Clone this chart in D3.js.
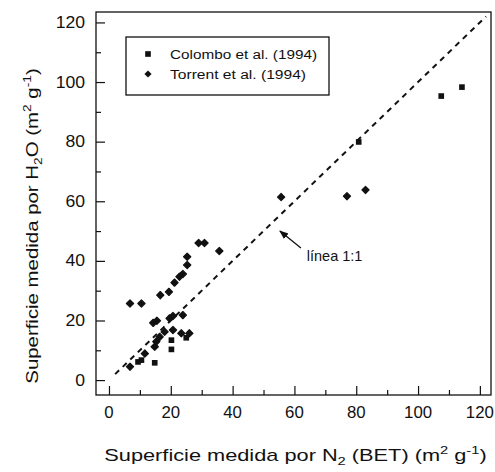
<!DOCTYPE html>
<html>
<head>
<meta charset="utf-8">
<script src="https://cdn.jsdelivr.net/npm/d3@7"></script>
<style>
  body { margin: 0; background: #fff; }
  svg { display: block; font-family: "Liberation Sans", Arial, sans-serif; }
</style>
</head>
<body>
<div id="chart"></div>
<script>
// Colombo et al. (1994) — squares
const colomboX = [114.2, 107.5, 80.8, 14.8, 20.2, 20.2, 10.5, 25.0, 9.4];
const colomboY = [98.3, 95.3, 79.9, 5.8, 10.3, 13.4, 6.7, 14.2, 6.1];

// Torrent et al. (1994) — diamonds
const torrentX = [55.7, 77.0, 83.0, 35.7, 29.0, 30.9, 25.3, 25.3, 23.9, 22.8, 21.2, 19.4, 16.6, 10.5, 6.8,
  14.3, 15.5, 19.6, 20.7, 23.9, 18.0, 20.7, 23.4, 26.0, 16.4, 15.3, 14.8, 11.6, 6.8];
const torrentY = [61.4, 61.7, 63.8, 43.3, 46.0, 46.0, 41.4, 38.6, 35.6, 34.7, 32.7, 29.6, 28.5, 25.7, 25.7,
  19.2, 19.9, 20.7, 21.5, 21.8, 16.2, 16.8, 15.7, 15.7, 14.5, 12.9, 11.2, 8.9, 4.5];

const tickValues = [0, 20, 40, 60, 80, 100, 120];
const minorTicks = [10, 30, 50, 70, 90, 110];
const lineEnds = [2, 122];

const W = 495, H = 472;
const box = { left: 96, right: 491, top: 12, bottom: 395 };

const x = d3.scaleLinear().domain([-4.2, 123.6]).range([box.left, box.right]);
const y = d3.scaleLinear().domain([-5, 123.5]).range([box.bottom, box.top]);

const svg = d3.select('#chart').append('svg').attr('width', W).attr('height', H);
const ink = '#111';

svg.append('defs').append('clipPath').attr('id', 'clip')
  .append('rect')
  .attr('x', box.left).attr('y', box.top)
  .attr('width', box.right - box.left).attr('height', box.bottom - box.top);

// frame
svg.append('rect')
  .attr('x', box.left).attr('y', box.top)
  .attr('width', box.right - box.left).attr('height', box.bottom - box.top)
  .attr('fill', 'none').attr('stroke', ink).attr('stroke-width', 1.3);

// inward ticks
const xAxis = svg.append('g').attr('transform', `translate(0,${box.bottom})`);
xAxis.call(d3.axisTop(x).tickValues(tickValues).tickSize(9).tickFormat(''));
xAxis.append('g').call(d3.axisTop(x).tickValues(minorTicks).tickSize(5).tickFormat(''));
xAxis.selectAll('.domain').remove();

const yAxis = svg.append('g').attr('transform', `translate(${box.left},0)`);
yAxis.call(d3.axisRight(y).tickValues(tickValues).tickSize(9).tickFormat(''));
yAxis.append('g').call(d3.axisRight(y).tickValues(minorTicks).tickSize(5).tickFormat(''));
yAxis.selectAll('.domain').remove();
svg.selectAll('.tick line').attr('stroke', ink).attr('stroke-width', 1.2);

// tick labels
svg.append('g').selectAll('text').data(tickValues).join('text')
  .attr('transform', d => `translate(${x(d)},${box.bottom + 23}) scale(1.05,1)`)
  .attr('text-anchor', 'middle').attr('font-size', 16).attr('fill', ink)
  .text(d => d);
svg.append('g').selectAll('text').data(tickValues).join('text')
  .attr('transform', d => `translate(${box.left - 11},${y(d) + 5.5}) scale(1.1,1)`)
  .attr('text-anchor', 'end').attr('font-size', 16).attr('fill', ink)
  .text(d => d);

// 1:1 line
const plot = svg.append('g').attr('clip-path', 'url(#clip)');
plot.append('line')
  .attr('x1', x(lineEnds[0])).attr('y1', y(lineEnds[0]))
  .attr('x2', x(lineEnds[1])).attr('y2', y(lineEnds[1]))
  .attr('stroke', ink).attr('stroke-width', 2).attr('stroke-dasharray', '5.5 5');

// points
const colombo = colomboX.map((v, i) => [v, colomboY[i]]);
const torrent = torrentX.map((v, i) => [v, torrentY[i]]);
const sq = d3.symbol().type(d3.symbolSquare).size(32);
const dia = d3.symbol().type(d3.symbolSquare).size(26);

plot.selectAll('.colombo').data(colombo).join('path')
  .attr('class', 'colombo')
  .attr('transform', d => `translate(${x(d[0])},${y(d[1])})`)
  .attr('d', sq).attr('fill', ink);
plot.selectAll('.torrent').data(torrent).join('path')
  .attr('class', 'torrent')
  .attr('transform', d => `translate(${x(d[0])},${y(d[1])}) rotate(45)`)
  .attr('d', dia).attr('fill', ink)
  .attr('stroke', ink).attr('stroke-width', 1.2).attr('stroke-linejoin', 'round');

// annotation arrow
const tip = [55.3, 50], tail = [62.1, 44.3];
svg.append('defs').append('marker')
  .attr('id', 'arrow').attr('viewBox', '0 0 10 10')
  .attr('refX', 9).attr('refY', 5)
  .attr('markerWidth', 7).attr('markerHeight', 7)
  .attr('orient', 'auto')
  .append('path').attr('d', 'M0,1 L10,5 L0,9 Z').attr('fill', ink);
svg.append('line')
  .attr('x1', x(tail[0])).attr('y1', y(tail[1]))
  .attr('x2', x(tip[0])).attr('y2', y(tip[1]))
  .attr('stroke', ink).attr('stroke-width', 1.3)
  .attr('marker-end', 'url(#arrow)');
svg.append('text')
  .attr('x', x(64)).attr('y', y(39.8))
  .attr('font-size', 14.5).attr('fill', ink)
  .text('línea 1:1');

// legend
const lg = svg.append('g');
lg.append('rect')
  .attr('x', 126).attr('y', 37).attr('width', 203).attr('height', 58)
  .attr('fill', '#fff').attr('stroke', ink).attr('stroke-width', 1.3);
const legendItems = [
  { label: 'Colombo et al. (1994)', sym: sq, rot: 0, len: 147 },
  { label: 'Torrent et al. (1994)', sym: dia, rot: 45, len: 136 }
];
legendItems.forEach((it, i) => {
  const cy = 54 + i * 20;
  lg.append('path').attr('transform', `translate(148,${cy}) rotate(${it.rot})`)
    .attr('d', it.sym).attr('fill', ink);
  lg.append('text').attr('x', 170).attr('y', cy + 4.5)
    .attr('font-size', 12.5).attr('fill', ink)
    .attr('textLength', it.len).attr('lengthAdjust', 'spacingAndGlyphs')
    .text(it.label);
});

// axis titles
const xt = svg.append('text')
  .attr('transform', `translate(${(box.left + box.right) / 2 + 2},461) scale(1.28,1)`)
  .attr('text-anchor', 'middle').attr('font-size', 17).attr('fill', ink);
xt.append('tspan').text('Superficie medida por N');
xt.append('tspan').attr('font-size', 11.5).attr('dy', 4).text('2');
xt.append('tspan').attr('dy', -4).text(' (BET) (m');
xt.append('tspan').attr('font-size', 11.5).attr('dy', -7).text('2');
xt.append('tspan').attr('dy', 7).text(' g');
xt.append('tspan').attr('font-size', 11.5).attr('dy', -7).text('-1');
xt.append('tspan').attr('dy', 7).text(')');

const yt = svg.append('text')
  .attr('transform', `translate(38,226) rotate(-90) scale(1.2,1)`)
  .attr('text-anchor', 'middle').attr('font-size', 17).attr('fill', ink);
yt.append('tspan').text('Superficie medida por H');
yt.append('tspan').attr('font-size', 11.5).attr('dy', 4).text('2');
yt.append('tspan').attr('dy', -4).text('O (m');
yt.append('tspan').attr('font-size', 11.5).attr('dy', -7).text('2');
yt.append('tspan').attr('dy', 7).text(' g');
yt.append('tspan').attr('font-size', 11.5).attr('dy', -7).text('-1');
yt.append('tspan').attr('dy', 7).text(')');
</script>
</body>
</html>
